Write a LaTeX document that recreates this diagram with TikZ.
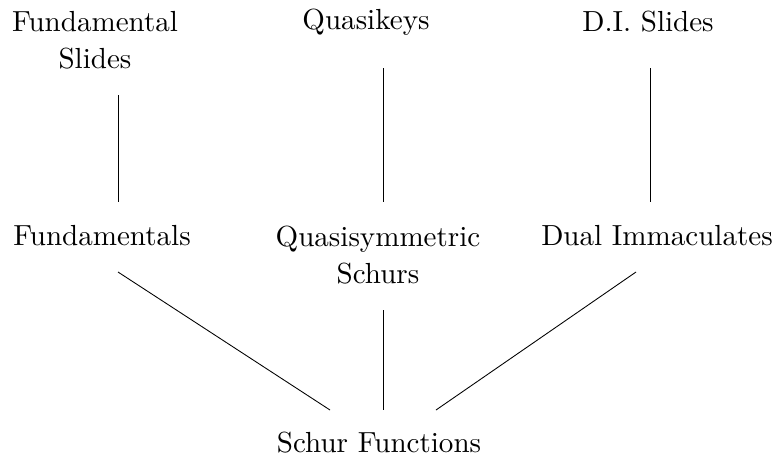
\documentclass[tikz,border=0pt]{standalone}
\usetikzlibrary{calc}
\begin{document}
\begin{tikzpicture}[x=0.344pt,y=-0.344pt,
  lbl/.style={align=center,inner sep=0pt,font=\fontsize{10}{12.7}\selectfont},
  conn/.style={line width=0.3pt}]
\useasboundingbox (0,0) rectangle (775,457);
\node[lbl] (fs) at (95,40) {Fundamental\\Slides};
\node[lbl] (qk) at (366,22) {Quasikeys};
\node[lbl] (ds) at (648,22) {D.I. Slides};
\node[lbl] (fu) at (102,236) {Fundamentals};
\node[lbl] (qs) at (378,255) {Quasisymmetric\\Schurs};
\node[lbl] (di) at (657,236) {Dual Immaculates};
\node[lbl] (sf) at (379,443) {Schur Functions};
\coordinate (a1) at (118,95);  \coordinate (a2) at (118,202);
\coordinate (b1) at (383,68);  \coordinate (b2) at (383,202);
\coordinate (c1) at (650,68);  \coordinate (c2) at (650,202);
\coordinate (d1) at (118,272); \coordinate (d2) at (330,410);
\coordinate (e1) at (383,310); \coordinate (e2) at (383,410);
\coordinate (f1) at (636,272); \coordinate (f2) at (436,410);
\draw[conn] (a1) -- (a2);
\draw[conn] (b1) -- (b2);
\draw[conn] (c1) -- (c2);
\draw[conn] (d1) -- (d2);
\draw[conn] (e1) -- (e2);
\draw[conn] (f1) -- (f2);
\end{tikzpicture}
\end{document}
